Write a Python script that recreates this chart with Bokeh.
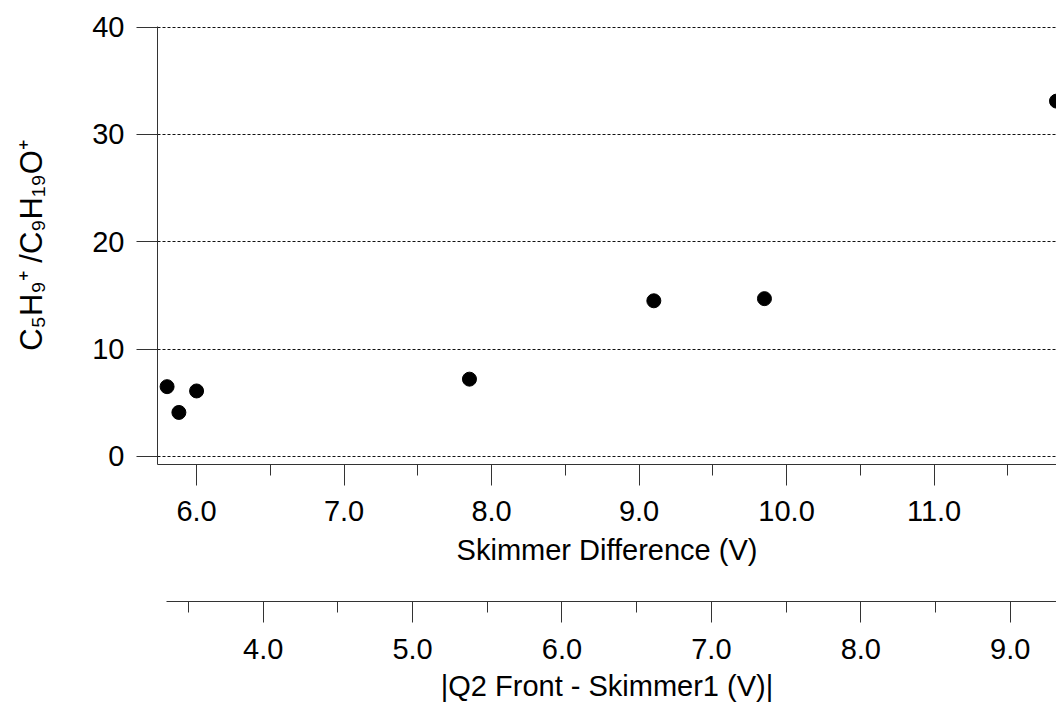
from bokeh.plotting import figure
from bokeh.models import (Range1d, LinearAxis, SingleIntervalTicker, FixedTicker,
                          NumeralTickFormatter, ColumnDataSource)
from bokeh.embed import file_html
from bokeh.resources import INLINE

# data
skimmer_diff = [5.80, 5.88, 6.00, 7.85, 9.10, 9.85, 11.83]
ratio = [6.5, 4.1, 6.1, 7.2, 14.5, 14.7, 33.1]
y_ticks = [0, 10, 20, 30, 40]
x_label = "Skimmer Difference (V)"
x2_label = "|Q2 Front - Skimmer1 (V)|"
y_label = "C\u2085H\u2089\u207a /C\u2089H\u2081\u2089O\u207a"

FONT = "Liberation Sans"
FS = "29px"

p = figure(width=1056, height=704,
           x_range=Range1d(5.735, 11.83), y_range=Range1d(-0.75, 40.05),
           output_backend="svg", toolbar_location=None,
           min_border_left=157, min_border_right=0, min_border_top=26,
           min_border_bottom=240)
p.outline_line_color = None
p.background_fill_color = "white"
p.border_fill_color = "white"

src = ColumnDataSource(dict(x=skimmer_diff, y=ratio))
p.scatter("x", "y", source=src, size=14, color="black")

# grids
p.xgrid.visible = False
p.ygrid.ticker = FixedTicker(ticks=y_ticks)
p.ygrid.grid_line_color = "#111111"
p.ygrid.grid_line_dash = "3 2"
p.ygrid.grid_line_width = 1

def style_axis(ax):
    ax.axis_line_color = "#333333"
    ax.major_tick_line_color = "#333333"
    ax.minor_tick_line_color = "#333333"
    ax.major_tick_in = 0
    ax.minor_tick_in = 0
    ax.major_tick_out = 21
    ax.minor_tick_out = 11
    ax.major_label_text_font = FONT
    ax.major_label_text_font_size = FS
    ax.major_label_text_color = "black"
    ax.axis_label_text_font = FONT
    ax.axis_label_text_font_size = FS
    ax.axis_label_text_font_style = "normal"
    ax.axis_label_text_color = "black"

# y axis
ya = p.yaxis[0]
style_axis(ya)
ya.ticker = FixedTicker(ticks=y_ticks)
ya.minor_tick_out = 0
ya.major_label_standoff = 12
ya.axis_label = y_label
ya.axis_label_text_font_size = "31px"
ya.axis_label_standoff = 40

# primary x axis
xa = p.xaxis[0]
style_axis(xa)
xa.ticker = SingleIntervalTicker(interval=1, num_minor_ticks=2)
xa.formatter = NumeralTickFormatter(format="0.0")
xa.major_label_standoff = 15
xa.axis_label = x_label
xa.axis_label_standoff = 10

# spacer between the two bottom axes
sp = LinearAxis(ticker=FixedTicker(ticks=[]), axis_line_color=None,
                major_tick_line_color=None, minor_tick_line_color=None,
                major_tick_out=0, minor_tick_out=0, major_label_standoff=0,
                major_label_text_font_size="0px",
                axis_label="\u00a0", axis_label_text_font_size="10px",
                axis_label_standoff=19)
p.add_layout(sp, "below")

# secondary x axis
p.extra_x_ranges = {"q2": Range1d(3.2925, 9.31)}
xb = LinearAxis(x_range_name="q2", bounds=(3.353, 9.31),
                ticker=SingleIntervalTicker(interval=1, num_minor_ticks=2),
                formatter=NumeralTickFormatter(format="0.0"))
style_axis(xb)
xb.major_label_standoff = 16
xb.axis_label = x2_label
xb.axis_label_standoff = 8
p.add_layout(xb, "below")

open("out.html", "w").write(file_html(p, INLINE))
